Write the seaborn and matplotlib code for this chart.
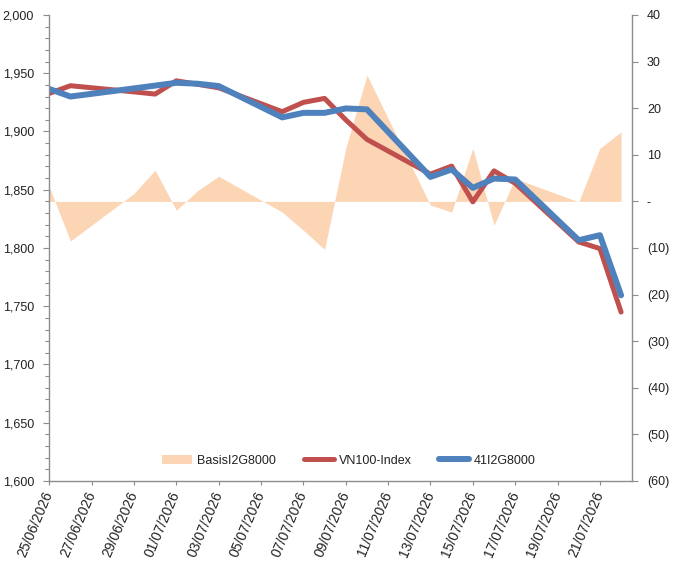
import matplotlib
matplotlib.use("Agg")
import pandas as pd
import matplotlib.pyplot as plt
import matplotlib.dates as mdates
import matplotlib.ticker as mticker
from matplotlib.patches import Patch
from matplotlib.lines import Line2D
import seaborn as sns

# ==========================================
# DATA
# ==========================================

dates = ["25/06/2026", "26/06/2026", "29/06/2026", "30/06/2026", "01/07/2026",
         "02/07/2026", "03/07/2026", "06/07/2026", "07/07/2026", "08/07/2026",
         "09/07/2026", "10/07/2026", "13/07/2026", "14/07/2026", "15/07/2026",
         "16/07/2026", "17/07/2026", "20/07/2026", "21/07/2026", "22/07/2026"]

vn100 = [1932.7, 1939.3, 1934.0, 1932.1, 1943.5, 1940.5, 1937.5, 1917.0, 1925.0, 1928.4,
         1910.0, 1893.2, 1863.4, 1870.3, 1839.6, 1866.2, 1855.5, 1805.2, 1799.5, 1745.0]

fut = [1936.5, 1930.0, 1937.0, 1939.4, 1941.8, 1941.0, 1939.0, 1912.1, 1916.0, 1916.0,
       1919.8, 1919.0, 1861.0, 1867.4, 1851.6, 1859.6, 1858.8, 1806.7, 1811.0, 1759.4]

basis = [3.1, -8.5, 1.7, 6.7, -1.9, 2.3, 5.4, -2.3, -6.2, -10.3,
         11.4, 27.1, -0.8, -2.3, 11.4, -5.1, 4.9, -0.1, 11.4, 14.9]

df = pd.DataFrame({
    "date": pd.to_datetime(dates, format="%d/%m/%Y"),
    "VN100-Index": vn100,
    "41I2G8000": fut,
    "BasisI2G8000": basis,
})

# colours
c_basis = "#FCD5B5"
c_red = "#C0504D"
c_blue = "#4F81BD"
c_axis = "#8C8C8C"
c_text = "#222222"

# ==========================================
# PLOT
# ==========================================

sns.set_style("ticks")
plt.rcParams["font.family"] = ["Liberation Sans", "DejaVu Sans"]

fig, ax = plt.subplots(figsize=(6.74, 5.68), dpi=100)
fig.subplots_adjust(left=0.0731, right=0.9372, top=0.9736, bottom=0.1532)
ax2 = ax.twinx()

# basis as area on secondary axis
ax2.fill_between(df["date"], 0, df["BasisI2G8000"], color=c_basis, lw=0)

# price lines on primary axis
sns.lineplot(data=df, x="date", y="VN100-Index", ax=ax, color=c_red, lw=3.6,
             solid_capstyle="round", solid_joinstyle="round")
sns.lineplot(data=df, x="date", y="41I2G8000", ax=ax, color=c_blue, lw=4.3,
             solid_capstyle="round", solid_joinstyle="round")

ax.set_zorder(ax2.get_zorder() + 1)
ax.patch.set_visible(False)

# left axis
ax.set_ylim(1600, 2000)
ax.yaxis.set_major_locator(mticker.MultipleLocator(50))
ax.yaxis.set_minor_locator(mticker.MultipleLocator(10))
ax.yaxis.set_major_formatter(mticker.FuncFormatter(lambda v, p: f"{v:,.0f}"))
ax.set_xlabel("")
ax.set_ylabel("")

# right axis
def basis_fmt(v, p):
    if abs(v) < 1e-9:
        return "-"
    if v < 0:
        return f"({abs(v):.0f})"
    return f"{v:.0f}"

ax2.set_ylim(-60, 40)
ax2.yaxis.set_major_locator(mticker.MultipleLocator(10))
ax2.yaxis.set_major_formatter(mticker.FuncFormatter(basis_fmt))

# x axis
ax.set_xlim(pd.Timestamp("2026-06-25"), pd.Timestamp("2026-07-22 12:00"))
ax.set_xticks(pd.date_range("2026-06-25", "2026-07-21", freq="2D"))
ax.xaxis.set_major_formatter(mdates.DateFormatter("%d/%m/%Y"))
for lbl in ax.get_xticklabels():
    lbl.set_rotation(67)
    lbl.set_ha("right")
    lbl.set_va("center")
    lbl.set_rotation_mode("anchor")

# spines & ticks
for a in (ax, ax2):
    a.spines["top"].set_visible(False)
ax.spines["right"].set_visible(False)
ax2.spines["left"].set_visible(False)
ax2.spines["bottom"].set_visible(False)
for s in ("left", "bottom"):
    ax.spines[s].set_color(c_axis)
    ax.spines[s].set_linewidth(1.0)
ax2.spines["right"].set_color(c_axis)
ax2.spines["right"].set_linewidth(1.0)

ax.tick_params(axis="y", which="major", length=4.5, width=0.8, color=c_axis,
               labelsize=9, labelcolor=c_text, pad=6.5)
ax.tick_params(axis="y", which="minor", length=3, width=0.8, color=c_axis)
ax.tick_params(axis="x", length=3, width=0.8, color=c_axis,
               labelsize=10, labelcolor=c_text, pad=5)
ax2.tick_params(axis="y", length=4.5, width=0.8, color=c_axis,
                labelsize=9, labelcolor=c_text, pad=6.5)

# legend
handles = [Patch(facecolor=c_basis, edgecolor="none"),
           Line2D([], [], color=c_red, lw=3.6),
           Line2D([], [], color=c_blue, lw=4.3)]
labels = ["BasisI2G8000", "VN100-Index", "41I2G8000"]
ax.legend(handles, labels, loc="center", bbox_to_anchor=(0.515, 0.0436), ncol=3,
          frameon=False, fontsize=9, handlelength=2.4, handletextpad=0.4,
          columnspacing=2.2, labelcolor=c_text)

plt.savefig("out.png", dpi=100)
